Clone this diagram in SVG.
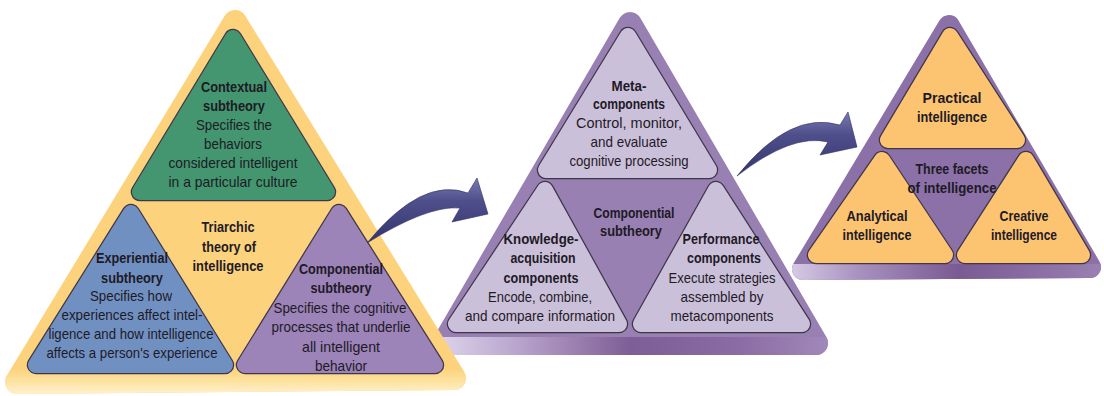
<svg xmlns="http://www.w3.org/2000/svg" xmlns:xlink="http://www.w3.org/1999/xlink" width="1104" height="396" viewBox="0 0 1104 396">
  <defs>
    <style>
      .t{font-family:"Liberation Sans",Arial,sans-serif;font-size:15px;fill:#1e1a26;text-anchor:middle}
      .b{font-weight:bold}
      .rj{stroke-linejoin:round}
      .edge{fill:#40364a;stroke:#40364a;stroke-width:18.5;stroke-linejoin:round}
      .green{fill:#43966f;stroke:#43966f;stroke-width:16;stroke-linejoin:round}
      .blue{fill:#7190c2;stroke:#7190c2;stroke-width:16;stroke-linejoin:round}
      .violet{fill:#9c83b8;stroke:#9c83b8;stroke-width:16;stroke-linejoin:round}
      .lilac{fill:#cbc0da;stroke:#cbc0da;stroke-width:16;stroke-linejoin:round}
      .amber{fill:#fcc470;stroke:#fcc470;stroke-width:16;stroke-linejoin:round}
      .msk{fill:#fff;stroke:#fff;stroke-linejoin:round}
    </style>

    <!-- outer frames (corner radius comes from the round stroke join) -->
    <polygon id="o-left" points="235,22 17,382 454,378"/>
    <polygon id="o-mid" points="630,24 444,343 816,343"/>
    <polygon id="o-right" points="949,26 803,269 1090,267"/>

    <!-- inner facets -->
    <polygon id="p-context" points="233,38 140,192 327,192"/>
    <polygon id="p-exper" points="131,213 36,365 225,365"/>
    <polygon id="p-compo" points="339,213 245,365 435,365"/>
    <polygon id="p-meta" points="628,36 546,170 709,170"/>
    <polygon id="p-know" points="545,190 456,324 619,324"/>
    <polygon id="p-perf" points="716,190 641,324 802,324"/>
    <polygon id="p-prac" points="950,36 888,140 1017,140"/>
    <polygon id="p-anal" points="882,160 816,255 945,255"/>
    <polygon id="p-crea" points="1026,160 965,255 1082,255"/>

    <mask id="m-left"><use xlink:href="#o-left" class="msk" stroke-width="24"/></mask>
    <mask id="m-mid"><use xlink:href="#o-mid" class="msk" stroke-width="24"/></mask>
    <mask id="m-right"><use xlink:href="#o-right" class="msk" stroke-width="22"/></mask>

    <linearGradient id="g-band-left" x1="0" y1="0" x2="0" y2="1">
      <stop offset="0" stop-color="#fde3a2" stop-opacity="0"/>
      <stop offset="0.5" stop-color="#fde3a2"/>
      <stop offset="1" stop-color="#fff3d6"/>
    </linearGradient>
    <linearGradient id="g-band-mid" x1="0" y1="0" x2="1" y2="0">
      <stop offset="0" stop-color="#e6def0"/>
      <stop offset="0.22" stop-color="#bba8cf"/>
      <stop offset="0.5" stop-color="#7f5d96"/>
      <stop offset="0.75" stop-color="#8a6ba3"/>
      <stop offset="1" stop-color="#a48cbd"/>
    </linearGradient>
    <linearGradient id="g-band-right" x1="0" y1="0" x2="1" y2="0">
      <stop offset="0" stop-color="#ddd3e9"/>
      <stop offset="0.25" stop-color="#a690be"/>
      <stop offset="0.55" stop-color="#7a5a92"/>
      <stop offset="1" stop-color="#9a80b3"/>
    </linearGradient>
    <linearGradient id="g-arrow" x1="0" y1="0" x2="0" y2="1">
      <stop offset="0" stop-color="#7a7ab0"/>
      <stop offset="0.35" stop-color="#4f4f8c"/>
      <stop offset="1" stop-color="#33336c"/>
    </linearGradient>
  </defs>

  <!-- Three facets of intelligence -->
  <g id="facets">
    <use xlink:href="#o-right" class="rj" fill="#8b71a7" stroke="#8b71a7" stroke-width="22"/>
    <rect x="780" y="264" width="324" height="22" fill="url(#g-band-right)" mask="url(#m-right)"/>
    <g id="practical">
      <use xlink:href="#p-prac" class="edge"/><use xlink:href="#p-prac" class="amber"/>
      <text class="t b" x="952" y="103" textLength="59" lengthAdjust="spacingAndGlyphs">Practical</text>
      <text class="t b" x="952" y="122" textLength="70" lengthAdjust="spacingAndGlyphs">intelligence</text>
    </g>
    <g id="analytical">
      <use xlink:href="#p-anal" class="edge"/><use xlink:href="#p-anal" class="amber"/>
      <text class="t b" x="877" y="221" textLength="61" lengthAdjust="spacingAndGlyphs">Analytical</text>
      <text class="t b" x="877" y="240" textLength="69" lengthAdjust="spacingAndGlyphs">intelligence</text>
    </g>
    <g id="creative">
      <use xlink:href="#p-crea" class="edge"/><use xlink:href="#p-crea" class="amber"/>
      <text class="t b" x="1024" y="221" textLength="49" lengthAdjust="spacingAndGlyphs">Creative</text>
      <text class="t b" x="1024" y="240" textLength="66" lengthAdjust="spacingAndGlyphs">intelligence</text>
    </g>
    <text class="t b" x="952" y="174" textLength="73" lengthAdjust="spacingAndGlyphs">Three facets</text>
    <text class="t b" x="952" y="193" textLength="89" lengthAdjust="spacingAndGlyphs">of intelligence</text>
  </g>

  <!-- Componential subtheory -->
  <g id="componential">
    <use xlink:href="#o-mid" class="rj" fill="#9880b2" stroke="#9880b2" stroke-width="24"/>
    <rect x="420" y="337" width="420" height="22" fill="url(#g-band-mid)" mask="url(#m-mid)"/>
    <g id="metacomponents">
      <use xlink:href="#p-meta" class="edge"/><use xlink:href="#p-meta" class="lilac"/>
      <text class="t b" x="629" y="91" textLength="35" lengthAdjust="spacingAndGlyphs">Meta-</text>
      <text class="t b" x="629" y="109" textLength="72" lengthAdjust="spacingAndGlyphs">components</text>
      <text class="t" x="629" y="128" textLength="106" lengthAdjust="spacingAndGlyphs">Control, monitor,</text>
      <text class="t" x="629" y="147" textLength="77" lengthAdjust="spacingAndGlyphs">and evaluate</text>
      <text class="t" x="629" y="166" textLength="119" lengthAdjust="spacingAndGlyphs">cognitive processing</text>
    </g>
    <g id="knowledge">
      <use xlink:href="#p-know" class="edge"/><use xlink:href="#p-know" class="lilac"/>
      <text class="t b" x="541" y="244" textLength="75" lengthAdjust="spacingAndGlyphs">Knowledge-</text>
      <text class="t b" x="543" y="263" textLength="65" lengthAdjust="spacingAndGlyphs">acquisition</text>
      <text class="t b" x="541" y="283" textLength="75" lengthAdjust="spacingAndGlyphs">components</text>
      <text class="t" x="540" y="302" textLength="104" lengthAdjust="spacingAndGlyphs">Encode, combine,</text>
      <text class="t" x="540" y="321" textLength="150" lengthAdjust="spacingAndGlyphs">and compare information</text>
    </g>
    <g id="performance">
      <use xlink:href="#p-perf" class="edge"/><use xlink:href="#p-perf" class="lilac"/>
      <text class="t b" x="721" y="244" textLength="77" lengthAdjust="spacingAndGlyphs">Performance</text>
      <text class="t b" x="724" y="263" textLength="74" lengthAdjust="spacingAndGlyphs">components</text>
      <text class="t" x="722" y="283" textLength="107" lengthAdjust="spacingAndGlyphs">Execute strategies</text>
      <text class="t" x="722" y="302" textLength="83" lengthAdjust="spacingAndGlyphs">assembled by</text>
      <text class="t" x="722" y="321" textLength="103" lengthAdjust="spacingAndGlyphs">metacomponents</text>
    </g>
    <text class="t b" x="634" y="218" textLength="81" lengthAdjust="spacingAndGlyphs">Componential</text>
    <text class="t b" x="631" y="236" textLength="62" lengthAdjust="spacingAndGlyphs">subtheory</text>
  </g>

  <!-- Triarchic theory of intelligence -->
  <g id="triarchic">
    <use xlink:href="#o-left" class="rj" fill="#fcd27c" stroke="#fcd27c" stroke-width="24"/>
    <rect x="0" y="368" width="480" height="28" fill="url(#g-band-left)" mask="url(#m-left)"/>
    <g id="contextual">
      <use xlink:href="#p-context" class="edge"/><use xlink:href="#p-context" class="green"/>
      <text class="t b" x="234" y="92" textLength="66" lengthAdjust="spacingAndGlyphs">Contextual</text>
      <text class="t b" x="234" y="111" textLength="62" lengthAdjust="spacingAndGlyphs">subtheory</text>
      <text class="t" x="234" y="130" textLength="76" lengthAdjust="spacingAndGlyphs">Specifies the</text>
      <text class="t" x="233" y="149" textLength="58" lengthAdjust="spacingAndGlyphs">behaviors</text>
      <text class="t" x="233" y="168" textLength="129" lengthAdjust="spacingAndGlyphs">considered intelligent</text>
      <text class="t" x="233" y="187" textLength="129" lengthAdjust="spacingAndGlyphs">in a particular culture</text>
    </g>
    <g id="experiential">
      <use xlink:href="#p-exper" class="edge"/><use xlink:href="#p-exper" class="blue"/>
      <text class="t b" x="132" y="263" textLength="72" lengthAdjust="spacingAndGlyphs">Experiential</text>
      <text class="t b" x="132" y="283" textLength="62" lengthAdjust="spacingAndGlyphs">subtheory</text>
      <text class="t" x="131" y="301" textLength="82" lengthAdjust="spacingAndGlyphs">Specifies how</text>
      <text class="t" x="132" y="320" textLength="141" lengthAdjust="spacingAndGlyphs">experiences affect intel-</text>
      <text class="t" x="131" y="339" textLength="165" lengthAdjust="spacingAndGlyphs">ligence and how intelligence</text>
      <text class="t" x="132" y="358" textLength="171" lengthAdjust="spacingAndGlyphs">affects a person's experience</text>
    </g>
    <g id="componential-sub">
      <use xlink:href="#p-compo" class="edge"/><use xlink:href="#p-compo" class="violet"/>
      <text class="t b" x="341" y="274" textLength="84" lengthAdjust="spacingAndGlyphs">Componential</text>
      <text class="t b" x="341" y="293" textLength="61" lengthAdjust="spacingAndGlyphs">subtheory</text>
      <text class="t" x="340" y="313" textLength="133" lengthAdjust="spacingAndGlyphs">Specifies the cognitive</text>
      <text class="t" x="341" y="332" textLength="139" lengthAdjust="spacingAndGlyphs">processes that underlie</text>
      <text class="t" x="341" y="352" textLength="78" lengthAdjust="spacingAndGlyphs">all intelligent</text>
      <text class="t" x="341" y="371" textLength="52" lengthAdjust="spacingAndGlyphs">behavior</text>
    </g>
    <text class="t b" x="228" y="232" textLength="53" lengthAdjust="spacingAndGlyphs">Triarchic</text>
    <text class="t b" x="229" y="252" textLength="54" lengthAdjust="spacingAndGlyphs">theory of</text>
    <text class="t b" x="228" y="271" textLength="71" lengthAdjust="spacingAndGlyphs">intelligence</text>
  </g>

  <!-- curved arrows between the triangles -->
  <g id="connectors" fill="url(#g-arrow)" stroke="#2e2e62" stroke-width="0.6" stroke-linejoin="round">
    <path d="M367,243 Q422,176 468,193 L477,178 L488,214 L452,222 L460,208 Q428,205 367,243 Z"/>
    <path d="M737,176 Q790,110 840,125 L848,112 L857,147 L820,155 L828,142 Q792,133 737,176 Z"/>
  </g>
</svg>
